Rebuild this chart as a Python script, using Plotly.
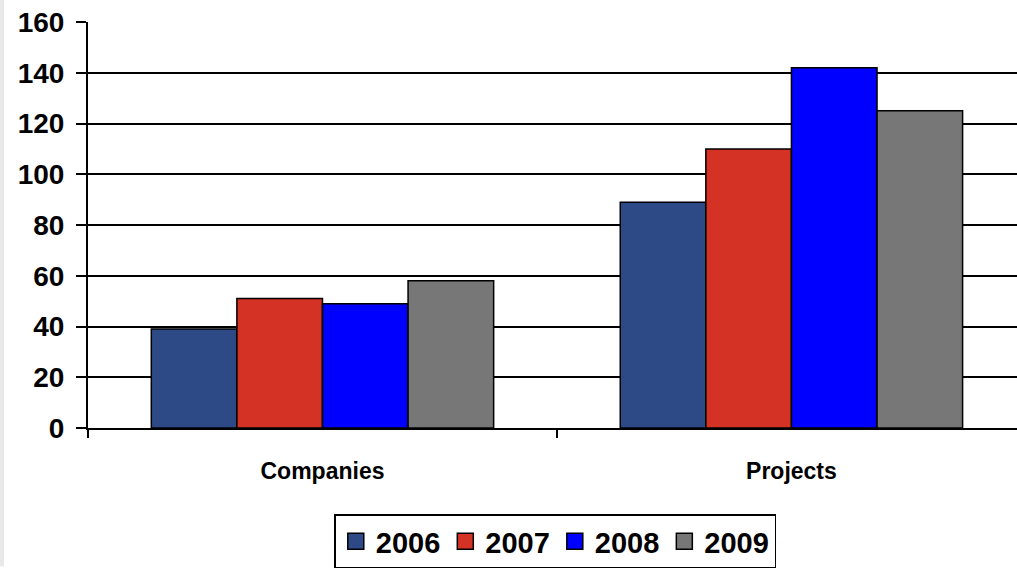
import plotly.graph_objects as go

categories = ["Companies", "Projects"]
years = ["2006", "2007", "2008", "2009"]
values_2006 = [39, 89]
values_2007 = [51, 110]
values_2008 = [49, 142]
values_2009 = [58, 125]
colors = ["#2E4A86", "#D33224", "#0000FF", "#777777"]
y_ticks = [0, 20, 40, 60, 80, 100, 120, 140, 160]

series = [values_2006, values_2007, values_2008, values_2009]

fig = go.Figure()
for name, vals, col in zip(years, series, colors):
    fig.add_trace(go.Bar(
        x=categories, y=vals, name=name, showlegend=False,
        marker=dict(color=col, line=dict(color="black", width=1.5)),
    ))
# legend entries with large square swatches
for name, col in zip(years, colors):
    fig.add_trace(go.Scatter(
        x=[None], y=[None], mode="markers", name=name,
        marker=dict(symbol="square", size=20, color=col, line=dict(color="black", width=1.5)),
    ))

W, H = 1017, 569
ml, mr, mt, mb = 88, 0, 22, 139
fig.update_layout(
    width=W, height=H,
    margin=dict(l=ml, r=mr, t=mt, b=mb, pad=0),
    paper_bgcolor="white", plot_bgcolor="white",
    barmode="group", bargap=0.27, bargroupgap=0,
    font=dict(family="Liberation Sans, Arial, sans-serif", color="black"),
    showlegend=True,
    legend=dict(
        orientation="h", x=0.503, xanchor="center", y=-0.213, yanchor="top",
        font=dict(size=29, family="Liberation Sans, Arial, sans-serif", color="black", weight="bold"),
        bordercolor="black", borderwidth=1.5, bgcolor="white",
        itemsizing="trace", itemwidth=30, traceorder="normal",
    ),
    xaxis=dict(
        type="category", range=[-0.5, 1.481],
        showline=True, linecolor="black", linewidth=2,
        ticks="outside", tickson="boundaries", ticklen=8, tickwidth=1.5, tickcolor="black",
        tickfont=dict(size=23, weight="bold"), ticklabelstandoff=21,
        showgrid=False, zeroline=False,
    ),
    yaxis=dict(
        range=[0, 160], tickvals=y_ticks,
        showline=True, linecolor="black", linewidth=2,
        ticks="outside", ticklen=10, tickwidth=1.5, tickcolor="black",
        tickfont=dict(size=28, weight="bold"), ticklabelstandoff=6,
        showgrid=True, gridcolor="black", gridwidth=1.5,
        zeroline=False,
    ),
)

plot_w = W - ml - mr
fig.add_shape(type="rect", xref="paper", yref="paper",
              x0=-ml / plot_w, x1=(-ml + 4) / plot_w, y0=-mb / (H - mt - mb), y1=1 + mt / (H - mt - mb),
              fillcolor="#E8E8E8", line=dict(width=0), layer="below")

fig.write_html("out.html", config={"displayModeBar": False},
               post_script="document.body.style.margin='0';document.body.style.overflow='hidden';")
